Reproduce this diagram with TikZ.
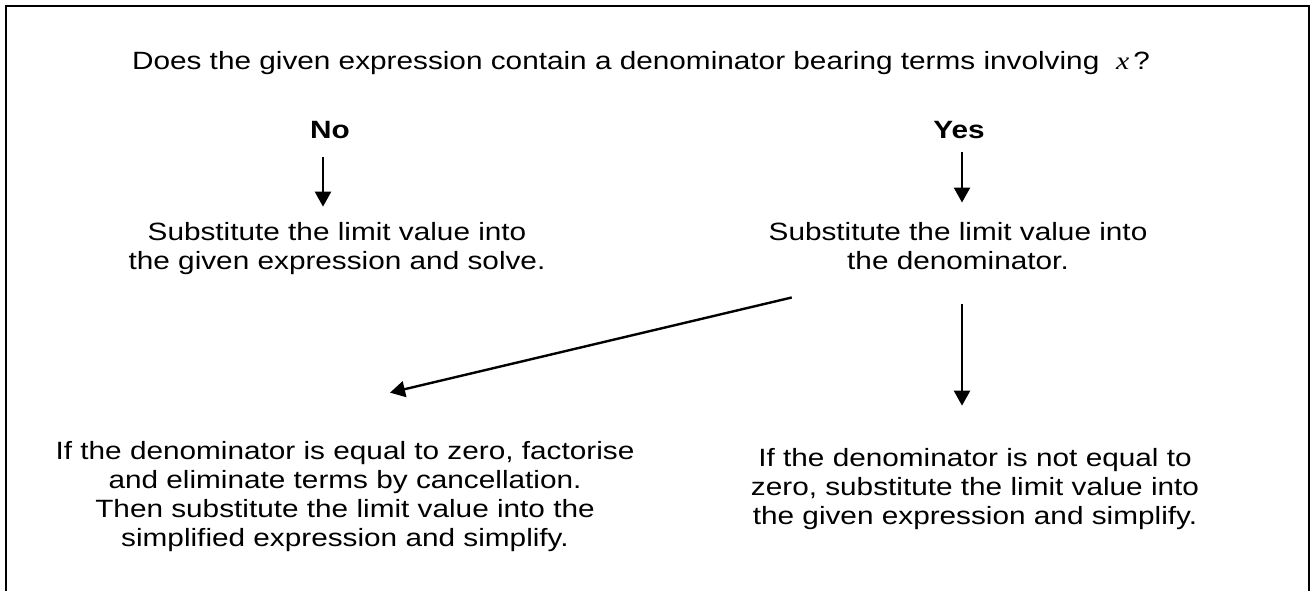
\documentclass[tikz,border=0pt]{standalone}
\usepackage{fontspec}
\setmainfont{Liberation Sans}[FakeStretch=1.19]
\newfontfamily\tnr{Liberation Serif}[FakeStretch=1.19]
\usetikzlibrary{arrows.meta}
\begin{document}
\begin{tikzpicture}[x=0.5pt,y=-0.5pt,
  txt/.style={font=\fontsize{12.5}{14.5}\selectfont, align=center, inner sep=0pt},
  lbl/.style={font=\fontsize{12.5}{14.5}\selectfont\bfseries, inner sep=0pt, anchor=base},
  arr/.style={line width=1.2pt, -{Triangle[width=8pt,length=7.5pt]}}]
\useasboundingbox (0,0) rectangle (1315,590);
\clip (0,0) rectangle (1315,590);
\draw[line width=1pt] (6,6) rectangle (1309,640);
\node[txt, anchor=base] (q) at (641,69) {Does the given expression contain a denominator bearing terms involving\ \ {\tnr\itshape x}\,?};
\node[lbl] (no) at (330,138) {No};
\node[lbl] (yes) at (959,138) {Yes};
\node[txt] (subno) at (337,249) {Substitute the limit value into\\the given expression and solve.};
\node[txt] (subyes) at (958,246.4) {Substitute the limit value into\\the denominator.};
\node[txt] (botl) at (345,497) {If the denominator is equal to zero, factorise\\and eliminate terms by cancellation.\\Then substitute the limit value into the\\simplified expression and simplify.};
\node[txt] (botr) at (975,489.5) {If the denominator is not equal to\\zero, substitute the limit value into\\the given expression and simplify.};
\draw[arr] ([xshift=-3.5pt,yshift=-9.5pt]no.base) -- ([xshift=-7pt,yshift=7.9pt]subno.north);
\draw[arr] ([xshift=1.5pt,yshift=-7pt]yes.base) -- ([xshift=2pt,yshift=9.9pt]subyes.north);
\draw[arr] ([xshift=11.75pt,yshift=-13.5pt]subyes.south west) -- ([xshift=22.5pt,yshift=24.4pt]botl.north);
\draw[arr] ([xshift=2pt,yshift=-17pt]subyes.south) -- ([xshift=-6.5pt,yshift=21.4pt]botr.north);
\end{tikzpicture}
\end{document}
